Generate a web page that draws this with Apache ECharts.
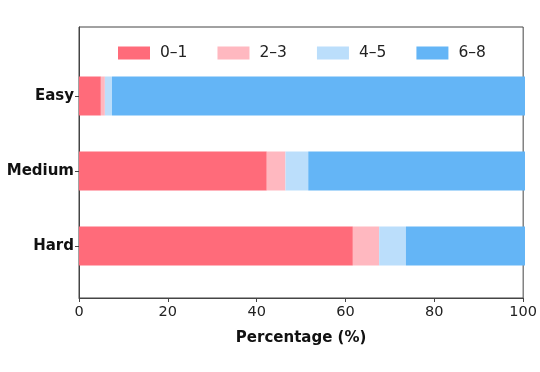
<!DOCTYPE html>
<html>
<head>
<meta charset="utf-8">
<script src="https://cdn.jsdelivr.net/npm/echarts@6/dist/echarts.min.js"></script>
<style>html,body{margin:0;padding:0;background:#fff}#c{width:540px;height:372px}</style>
</head>
<body>
<div id="c"></div>
<script>
var categories = ['Easy', 'Medium', 'Hard'];
var seriesNames = ['0–1', '2–3', '4–5', '6–8'];
var v01 = [4.9, 42.1, 61.4];
var v23 = [0.9, 4.2, 5.9];
var v45 = [1.6, 5.1, 6.0];
var v68 = [92.6, 48.6, 26.7];
var xTicks = [0, 20, 40, 60, 80, 100];
var colors = ['#FF6B7A', '#FFB8C0', '#BBDEFB', '#64B5F6'];

var chart = echarts.init(document.getElementById('c'), null, {renderer: 'canvas'});
var font = 'DejaVu Sans';
var values = [v01, v23, v45, v68];
var series = seriesNames.map(function (n, i) {
  return {
    name: n, type: 'bar', stack: 'total', xAxisIndex: 0, yAxisIndex: 0,
    barWidth: 39, data: values[i], itemStyle: {color: colors[i]}, emphasis: {disabled: true}
  };
});
chart.setOption({
  animation: false,
  backgroundColor: '#fff',
  textStyle: {fontFamily: font},
  legend: {
    data: seriesNames, left: 118, top: 45, padding: 0, itemWidth: 32, itemHeight: 13, itemGap: 30,
    icon: 'rect', textStyle: {fontFamily: font, fontSize: 15.5, color: '#222', padding: [0, 0, 0, 5]}
  },
  grid: [
    {left: 79, right: 15, top: 58.5, bottom: 88.5, containLabel: false},
    {left: 79, right: 15, top: 27, bottom: 74, show: true, borderColor: '#444', borderWidth: 1, backgroundColor: 'transparent', z: 0}
  ],
  xAxis: [
    {type: 'value', gridIndex: 0, min: 0, max: 100, show: false},
    {type: 'value', gridIndex: 1, min: 0, max: 100, interval: 20,
     axisLine: {show: true, lineStyle: {color: '#444', width: 1}},
     axisTick: {show: true, length: 4, lineStyle: {color: '#444'}},
     splitLine: {show: false},
     axisLabel: {fontFamily: font, fontSize: 14.5, color: '#222', margin: 7,
       formatter: function (v) { return xTicks.indexOf(v) >= 0 ? String(v) : ''; }},
     name: 'Percentage (%)', nameLocation: 'middle', nameGap: 33,
     nameTextStyle: {fontFamily: font, fontSize: 15, fontWeight: 'bold', color: '#111'}}
  ],
  yAxis: [
    {type: 'category', gridIndex: 0, data: categories, inverse: true,
     axisLine: {show: false},
     axisTick: {show: true, alignWithLabel: true, length: 4, lineStyle: {color: '#444'}},
     axisLabel: {fontFamily: font, fontSize: 15, fontWeight: 'bold', color: '#111', margin: 5}},
    {type: 'value', gridIndex: 1, min: 0, max: 1, show: true,
     axisLine: {show: true, lineStyle: {color: '#444'}}, axisTick: {show: false},
     axisLabel: {show: false}, splitLine: {show: false}}
  ],
  series: series
});
</script>
</body>
</html>
